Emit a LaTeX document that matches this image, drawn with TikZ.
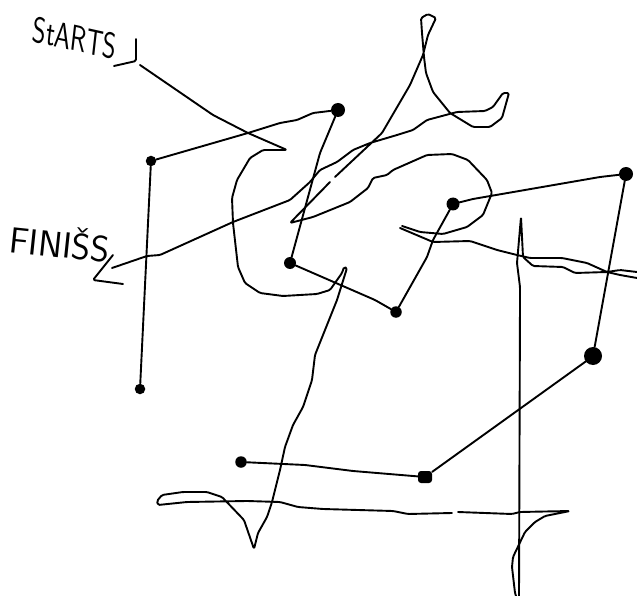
\documentclass[tikz,border=0pt]{standalone}
\usetikzlibrary{positioning}

\begin{document}
\begin{tikzpicture}[
  x=1pt, y=-1pt,
  font=\sffamily,
  stroke/.style={draw=black, line width=1.9pt, line join=round, line cap=round, rounded corners=1.5pt},
  smalldot/.style={circle, fill=black, inner sep=0pt, minimum size=10.5pt},
  middot/.style={circle, fill=black, inner sep=0pt, minimum size=14pt},
  bigdot/.style={circle, fill=black, inner sep=0pt, minimum size=18pt},
  blockdot/.style={rectangle, rounded corners=3pt, fill=black, inner sep=0pt, minimum width=14pt, minimum height=12pt},
  hand/.style={inner sep=0pt, font=\sffamily\fontsize{26}{30}\selectfont}
]
\useasboundingbox (0,0) rectangle (637,596);

\node[hand, xscale=1, yscale=1.4, rotate=-9] (starts) at (75,38) {StARTS};
\node[hand, xscale=1.4, yscale=1.4, rotate=-6] (finiss) at (60,242) {FINIŠS};

\node[smalldot] (d1) at (140,389) {};
\node[smalldot] (d2) at (151,161) {};
\node[middot] (d3) at (338,110) {};
\node[smalldot, minimum size=12pt] (d4) at (290,263) {};
\node[smalldot, minimum size=11.5pt] (d5) at (396,312) {};
\node[smalldot, minimum size=13pt] (d6) at (453,204) {};
\node[middot] (d7) at (626,174) {};
\node[bigdot] (d8) at (593,356) {};
\node[blockdot] (d9) at (425,477) {};
\node[smalldot, minimum size=11.5pt] (d10) at (241,462) {};

\draw[stroke] (d1) -- (d2);
\draw[stroke] (d2) -- (248,133) -- (280,123) -- (297,120) -- (313,113) -- (d3);
\draw[stroke] (d3) -- (320,153) -- (d4);
\draw[stroke] (d4) -- (375,300) -- (d5);
\draw[stroke] (d5) -- (427,257) -- (433,240) -- (d6);
\draw[stroke] (d6) -- (473,199) -- (600,177) -- (d7);
\draw[stroke] (d7) -- (d8);
\draw[stroke] (d8) -- (585,362) -- (d9);
\draw[stroke] (d9) -- (353,471) -- (305,465) -- (d10);

% start hook and long line
\draw[stroke] (136,39) -- (136,61) -- (114,66);
\draw[stroke] (140,65) -- (213,115) -- (248,133) -- (287,150) -- (263,150) -- (250,158) -- (237,180)
  -- (232,198) -- (233,223) -- (238,267) -- (245,283) -- (260,293) -- (283,296) -- (317,294)
  -- (330,290) -- (342,273) -- (344,267) -- (347,268) -- (337,300) -- (315,355) -- (312,380)
  -- (303,407) -- (293,425) -- (285,447) -- (280,470) -- (272,502) -- (267,517) -- (258,533)
  -- (254,549) -- (244,520) -- (222,497) -- (207,492) -- (183,492) -- (162,495) -- (157,501)
  -- (158,505) -- (187,502) -- (247,501) -- (280,502) -- (298,507) -- (323,509) -- (393,511)
  -- (408,514) -- (452,513);
\draw[stroke] (458,512) -- (512,514) -- (520,512) -- (570,511) -- (545,516) -- (535,522) -- (525,532)
  -- (513,557) -- (512,567) -- (515,593) -- (516,596);

% spike on the right
\draw[stroke] (519,596) -- (520,300) -- (520,287) -- (517,263) -- (521,217) -- (523,257) -- (533,266)
  -- (563,267) -- (575,273) -- (607,272) -- (620,275) -- (637,278);
\draw[stroke] (400,228) -- (433,242) -- (470,241) -- (497,250) -- (517,255) -- (530,258) -- (562,258)
  -- (587,263) -- (607,272) -- (620,270) -- (637,272);

% spiral, loop on top, finish
\draw[stroke] (402,226) -- (420,232) -- (443,234) -- (467,227) -- (483,215) -- (492,193) -- (487,180)
  -- (468,160) -- (452,154) -- (427,155) -- (393,170) -- (387,175) -- (373,178) -- (368,188)
  -- (350,202) -- (313,217) -- (290,223) -- (330,182);
\draw[stroke] (335,177) -- (382,133) -- (410,85) -- (423,55) -- (428,35) -- (436,18) -- (428,14)
  -- (421,18) -- (422,33) -- (424,57) -- (426,73) -- (433,92) -- (450,113) -- (473,127) -- (490,127)
  -- (502,118) -- (509,93) -- (503,93) -- (493,107) -- (485,111) -- (457,112) -- (427,120) -- (413,130)
  -- (397,135) -- (370,143) -- (353,150) -- (337,162) -- (320,170) -- (310,182) -- (290,200)
  -- (233,222) -- (160,255) -- (147,256) -- (112,268);
\draw[stroke] (113,255) -- (93,280) -- (123,284);

\end{tikzpicture}
\end{document}
